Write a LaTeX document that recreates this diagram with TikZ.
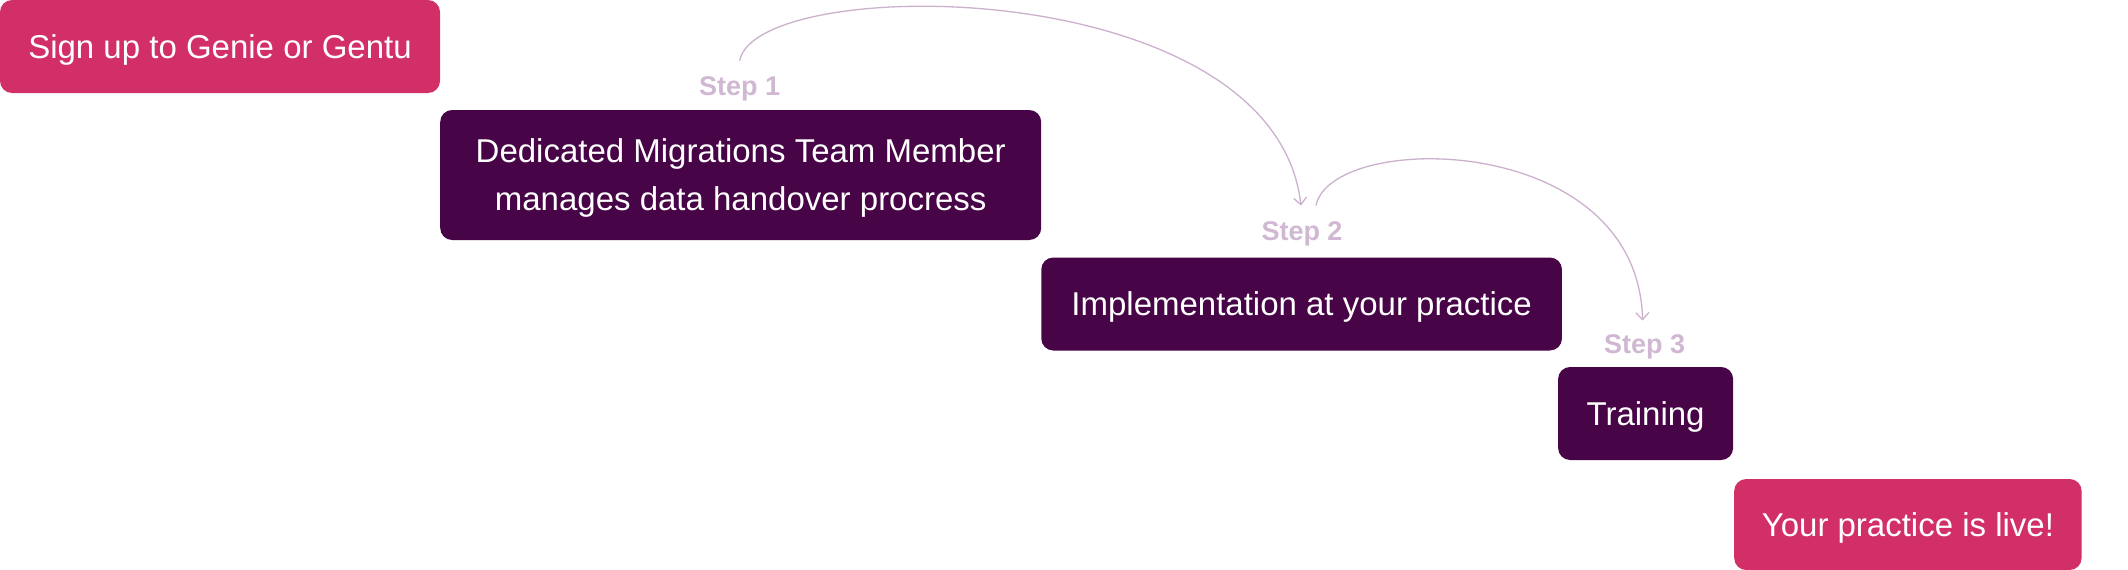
\documentclass[tikz,border=0pt]{standalone}
\usepackage{fontspec}
\setmainfont{Liberation Sans}
\usetikzlibrary{arrows.meta,calc}
\definecolor{pinkbox}{HTML}{D22E68}
\definecolor{darkbox}{HTML}{470447}
\definecolor{steptext}{HTML}{D0B7D2}
\definecolor{curvecol}{HTML}{CBB1CD}
\begin{document}
\begin{tikzpicture}[x=1pt,y=1pt,
  boxbase/.style={rounded corners=12pt, inner sep=0pt, text=white, align=center,
    text depth=0pt, font=\fontsize{33}{48}\selectfont},
  pinkstep/.style={boxbase, fill=pinkbox},
  darkstep/.style={boxbase, fill=darkbox},
  steplabel/.style={inner sep=0pt, text=steptext, font=\fontsize{27}{30}\selectfont\bfseries},
  flow/.style={draw=curvecol, line width=1.3pt, -{Straight Barb[length=7pt,width=13pt]}}]
\useasboundingbox (0,0) rectangle (2128,-570);
\node[pinkstep, minimum width=440pt, minimum height=93pt] (a) at (220,-46.5) {Sign up to Genie or Gentu};
\node[darkstep, minimum width=601pt, minimum height=130pt] (b) at (740.7,-175) {Dedicated Migrations Team Member\\manages data handover procress};
\node[darkstep, minimum width=520.7pt, minimum height=93pt] (c) at (1301.6,-304) {Implementation at your practice};
\node[darkstep, minimum width=175pt, minimum height=93pt] (d) at (1645.6,-413.5) {Training};
\node[pinkstep, minimum width=347.4pt, minimum height=91pt] (e) at (1907.9,-524.5) {Your practice is live!};
\node[steplabel] (s1) at (739.7,-89) {Step 1};
\node[steplabel] (s2) at (1302,-234) {Step 2};
\node[steplabel] (s3) at (1644.6,-347) {Step 3};
\coordinate (c1s) at ($(s1.north)+(0,16)$);
\coordinate (c1e) at ($(s2.north)+(-1,16)$);
\coordinate (c2s) at ($(s2.north)+(14,16)$);
\coordinate (c2e) at ($(s3.north)+(-2,14)$);
\draw[flow] (c1s) .. controls ($(c1s)+(17,88)$) and ($(c1e)+(-27,233)$) .. (c1e);
\draw[flow] (c2s) .. controls ($(c2s)+(15,75)$) and ($(c2e)+(-5,190)$) .. (c2e);
\end{tikzpicture}
\end{document}
